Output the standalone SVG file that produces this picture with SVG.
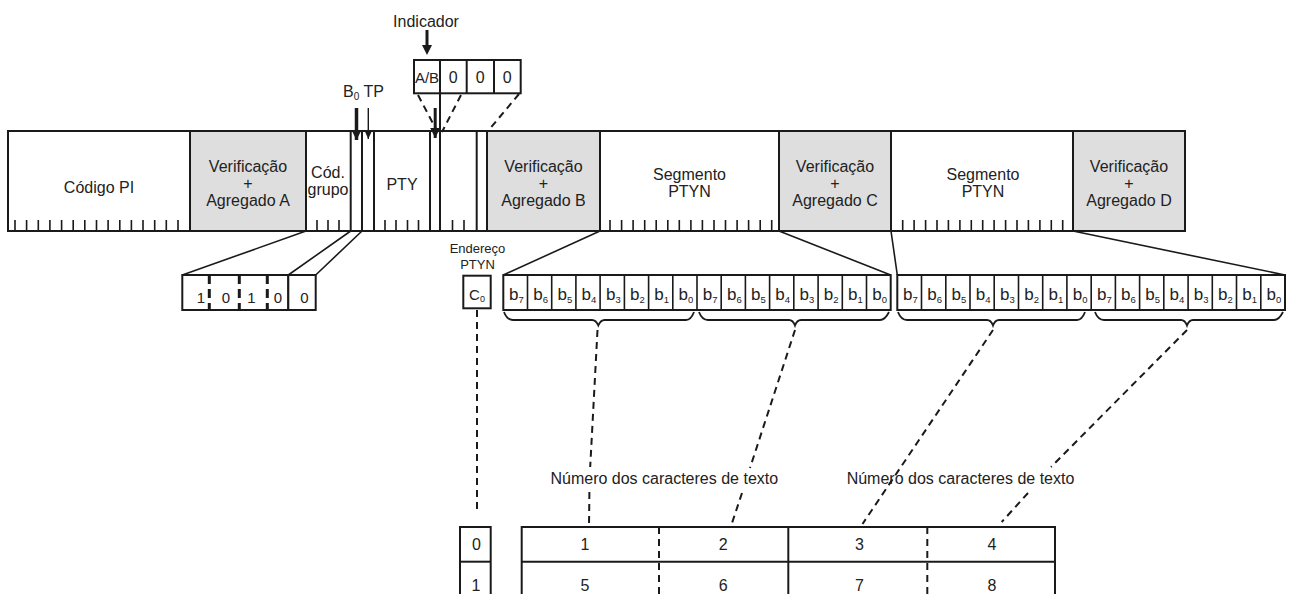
<svg xmlns="http://www.w3.org/2000/svg" width="1289" height="594" viewBox="0 0 1289 594">
<defs>
<style>
text{font-family:"Liberation Sans",Arial,sans-serif;fill:#222;text-anchor:middle}
.t{font-size:16px}
.s{font-size:13px}
.bx{fill:#fff;stroke:#1a1a1a;stroke-width:2}
.gr{fill:#dedede;stroke:#1a1a1a;stroke-width:2}
.ln{stroke:#1a1a1a;stroke-width:2;fill:none}
.tk{stroke:#1a1a1a;stroke-width:1.6}
.dl{stroke:#1a1a1a;stroke-width:2;fill:none;stroke-dasharray:7 5}
.dk{stroke:#1a1a1a;stroke-width:3;fill:none;stroke-dasharray:9 5}
.br{stroke:#1a1a1a;stroke-width:1.8;fill:none}
.bb{font-size:17px}
.sub{font-size:9.5px}
</style>
<marker id="ah" markerUnits="userSpaceOnUse" markerWidth="10" markerHeight="11" refX="5" refY="10" orient="0" viewBox="0 0 10 11">
<path d="M0,0 L10,0 L5,10 Z" fill="#1a1a1a"/>
</marker>
<marker id="ahs" markerUnits="userSpaceOnUse" markerWidth="8" markerHeight="10" refX="4" refY="9" orient="0" viewBox="0 0 8 10">
<path d="M0,0 L8,0 L4,9 Z" fill="#1a1a1a"/>
</marker>
</defs>
<rect width="1289" height="594" fill="#fff"/>

<g id="bar">
<rect class="bx" x="8" y="131" width="1177" height="100"/>
<rect class="gr" x="190" y="131" width="116" height="100"/>
<rect class="gr" x="487" y="131" width="113" height="100"/>
<rect class="gr" x="779" y="131" width="112" height="100"/>
<rect class="gr" x="1073" y="131" width="112" height="100"/>
<g class="ln">
<line x1="350.7" y1="131" x2="350.7" y2="231"/>
<line x1="362" y1="131" x2="362" y2="231"/>
<line x1="374" y1="131" x2="374" y2="231"/>
<line x1="430" y1="131" x2="430" y2="231"/>
<line x1="440" y1="93" x2="440" y2="231"/>
<line x1="476.7" y1="131" x2="476.7" y2="231"/>
</g>
<g class="tk">
<path d="M15,220V231M26.6,220V231M38.3,220V231M49.9,220V231M61.6,220V231M73.2,220V231M84.8,220V231M96.5,220V231M108.1,220V231M119.8,220V231M131.4,220V231M143,220V231M154.7,220V231M166.3,220V231M178,220V231"/>
<path d="M317,220V231M328,220V231M339,220V231"/>
<path d="M385,220V231M396,220V231M407.5,220V231M418.5,220V231"/>
<path d="M452.5,220V231M464,220V231"/>
<path d="M610,220V231M621.6,220V231M633.1,220V231M644.7,220V231M656.2,220V231M667.8,220V231M679.3,220V231M690.9,220V231M702.4,220V231M714,220V231M725.5,220V231M737.1,220V231M748.6,220V231M760.2,220V231M771.7,220V231"/>
<path d="M902.7,220V231M914.1,220V231M925.6,220V231M937,220V231M948.4,220V231M959.9,220V231M971.3,220V231M982.7,220V231M994.1,220V231M1005.6,220V231M1017,220V231M1028.4,220V231M1039.9,220V231M1051.3,220V231M1062.7,220V231"/>
</g>
</g>

<g id="codigo-pi"><text class="t" x="99" y="193">Código PI</text></g>
<g id="verif-a"><text class="t" x="248" y="172">Verificação</text><text class="t" x="248" y="189">+</text><text class="t" x="248" y="206">Agregado A</text></g>
<g id="cod-grupo"><text class="t" x="328" y="178">Cód.</text><text class="t" x="328" y="195">grupo</text></g>
<g id="pty"><text class="t" x="402" y="190">PTY</text></g>
<g id="verif-b"><text class="t" x="543.5" y="172">Verificação</text><text class="t" x="543.5" y="189">+</text><text class="t" x="543.5" y="206">Agregado B</text></g>
<g id="seg1"><text class="t" x="689.5" y="180">Segmento</text><text class="t" x="689.5" y="197">PTYN</text></g>
<g id="verif-c"><text class="t" x="835" y="172">Verificação</text><text class="t" x="835" y="189">+</text><text class="t" x="835" y="206">Agregado C</text></g>
<g id="seg2"><text class="t" x="983" y="180">Segmento</text><text class="t" x="983" y="197">PTYN</text></g>
<g id="verif-d"><text class="t" x="1129" y="172">Verificação</text><text class="t" x="1129" y="189">+</text><text class="t" x="1129" y="206">Agregado D</text></g>

<g id="indicador">
<text class="t" x="426" y="27">Indicador</text>
<rect class="bx" x="414" y="60" width="106.7" height="33.3"/>
<path class="ln" d="M440,60V93.3M466.7,60V93.3M494,60V93.3"/>
<text class="t" x="427" y="83" style="font-size:15px">A/B</text>
<text class="t" x="453.3" y="83">0</text>
<text class="t" x="480.3" y="83">0</text>
<text class="t" x="507.3" y="83">0</text>
</g>

<g id="b0tp">
<text class="t" x="343" y="97" style="text-anchor:start">B<tspan style="font-size:10px" dy="3">0</tspan><tspan dy="-3"> TP</tspan></text>
</g>

<g id="bits-grupo">
<rect class="bx" x="182.3" y="275" width="106" height="35"/>
<rect class="bx" x="288.3" y="275" width="27.4" height="35"/>
<path class="dk" d="M209.3,275V310M239.3,275V310M267.3,275V310"/>
<text class="t" x="200.8" y="303" style="font-size:15px">1</text>
<text class="t" x="225.8" y="303" style="font-size:15px">0</text>
<text class="t" x="251.5" y="303" style="font-size:15px">1</text>
<text class="t" x="277.8" y="303" style="font-size:15px">0</text>
<text class="t" x="304.5" y="303" style="font-size:15px">0</text>
</g>

<g id="endereco">
<text class="s" x="477.5" y="253">Endereço</text>
<text class="s" x="477.5" y="269">PTYN</text>
<rect class="bx" x="463.3" y="275.7" width="27.4" height="32.6"/>
<text class="t" x="477" y="300" style="font-size:15px">C<tspan style="font-size:9px" dy="2">0</tspan></text>
</g>

<g id="brow1">
<rect class="bx" x="503.3" y="275" width="387.4" height="35"/>
<path class="ln" style="stroke-width:1.6" d="M527.5,275V310M551.7,275V310M575.9,275V310M600.1,275V310M624.4,275V310M648.6,275V310M672.8,275V310M697,275V310M721.2,275V310M745.4,275V310M769.6,275V310M793.8,275V310M818.1,275V310M842.3,275V310M866.5,275V310"/>
<g class="bb">
<text x="516.4" y="300">b<tspan class="sub" dy="3">7</tspan></text>
<text x="540.6" y="300">b<tspan class="sub" dy="3">6</tspan></text>
<text x="564.8" y="300">b<tspan class="sub" dy="3">5</tspan></text>
<text x="589" y="300">b<tspan class="sub" dy="3">4</tspan></text>
<text x="613.3" y="300">b<tspan class="sub" dy="3">3</tspan></text>
<text x="637.5" y="300">b<tspan class="sub" dy="3">2</tspan></text>
<text x="661.7" y="300">b<tspan class="sub" dy="3">1</tspan></text>
<text x="685.9" y="300">b<tspan class="sub" dy="3">0</tspan></text>
<text x="710.1" y="300">b<tspan class="sub" dy="3">7</tspan></text>
<text x="734.3" y="300">b<tspan class="sub" dy="3">6</tspan></text>
<text x="758.5" y="300">b<tspan class="sub" dy="3">5</tspan></text>
<text x="782.7" y="300">b<tspan class="sub" dy="3">4</tspan></text>
<text x="807" y="300">b<tspan class="sub" dy="3">3</tspan></text>
<text x="831.2" y="300">b<tspan class="sub" dy="3">2</tspan></text>
<text x="855.4" y="300">b<tspan class="sub" dy="3">1</tspan></text>
<text x="879.6" y="300">b<tspan class="sub" dy="3">0</tspan></text>
</g>
</g>
<g id="brow2">
<rect class="bx" x="897.3" y="275" width="387.7" height="35"/>
<path class="ln" style="stroke-width:1.6" d="M921.5,275V310M945.8,275V310M970,275V310M994.2,275V310M1018.5,275V310M1042.7,275V310M1066.9,275V310M1091.2,275V310M1115.4,275V310M1139.6,275V310M1163.8,275V310M1188.1,275V310M1212.3,275V310M1236.5,275V310M1260.8,275V310"/>
<g class="bb">
<text x="910.4" y="300">b<tspan class="sub" dy="3">7</tspan></text>
<text x="934.7" y="300">b<tspan class="sub" dy="3">6</tspan></text>
<text x="958.9" y="300">b<tspan class="sub" dy="3">5</tspan></text>
<text x="983.1" y="300">b<tspan class="sub" dy="3">4</tspan></text>
<text x="1007.4" y="300">b<tspan class="sub" dy="3">3</tspan></text>
<text x="1031.6" y="300">b<tspan class="sub" dy="3">2</tspan></text>
<text x="1055.8" y="300">b<tspan class="sub" dy="3">1</tspan></text>
<text x="1080.1" y="300">b<tspan class="sub" dy="3">0</tspan></text>
<text x="1104.3" y="300">b<tspan class="sub" dy="3">7</tspan></text>
<text x="1128.5" y="300">b<tspan class="sub" dy="3">6</tspan></text>
<text x="1152.7" y="300">b<tspan class="sub" dy="3">5</tspan></text>
<text x="1177" y="300">b<tspan class="sub" dy="3">4</tspan></text>
<text x="1201.2" y="300">b<tspan class="sub" dy="3">3</tspan></text>
<text x="1225.4" y="300">b<tspan class="sub" dy="3">2</tspan></text>
<text x="1249.7" y="300">b<tspan class="sub" dy="3">1</tspan></text>
<text x="1273.9" y="300">b<tspan class="sub" dy="3">0</tspan></text>
</g>
</g>

<g id="addr-table">
<rect class="bx" x="460" y="527" width="30.7" height="72"/>
<line class="ln" x1="460" y1="561.7" x2="490.7" y2="561.7"/>
<text class="t" x="476.5" y="550">0</text>
<text class="t" x="476" y="591">1</text>
</g>
<g id="char-table">
<rect class="bx" x="521.7" y="527" width="533.3" height="72"/>
<line class="ln" x1="521.7" y1="561.7" x2="1055" y2="561.7"/>
<line class="ln" x1="788.3" y1="527" x2="788.3" y2="599"/>
<path class="dl" d="M659,527V599M927.3,527V599"/>
<text class="t" x="585" y="550">1</text>
<text class="t" x="723.3" y="550">2</text>
<text class="t" x="859.5" y="550">3</text>
<text class="t" x="992" y="550">4</text>
<text class="t" x="585" y="591">5</text>
<text class="t" x="723.3" y="591">6</text>
<text class="t" x="859.5" y="591">7</text>
<text class="t" x="992" y="591">8</text>
</g>

<g id="labels">
<text class="t" x="664.3" y="484">Número dos caracteres de texto</text>
<text class="t" x="960.5" y="484">Número dos caracteres de texto</text>
</g>

<g id="connectors">
<line class="ln" x1="427" y1="30" x2="427" y2="46" style="stroke-width:3"/>
<path d="M422,45 L432,45 L427,55 Z" fill="#1a1a1a"/>
<line class="ln" x1="356.5" y1="108" x2="356.5" y2="140" style="stroke-width:3.5" marker-end="url(#ah)"/>
<line class="ln" x1="368.3" y1="108" x2="368.3" y2="139" style="stroke-width:1.4" marker-end="url(#ahs)"/>
<line class="ln" x1="435.2" y1="108" x2="435.2" y2="138" style="stroke-width:3" marker-end="url(#ah)"/>

<path class="dl" d="M418,95L437,131M461,95L442,132M519,94L488,131"/>

<path class="ln" style="stroke-width:1.6" d="M306,231L182.3,275M350.7,231L288.3,275M362,231L315.7,275"/>
<path class="ln" style="stroke-width:1.6" d="M600,231L503.3,275M779,231L890.7,275M891,231L897.3,275M1073,231L1285,275"/>

<path class="br" d="M504,312Q507,320 513,320L592,320Q596,320 598.3,325.5Q600.6,320 604.6,320L686,320Q691,320 694,312"/>
<path class="br" d="M699,312Q702,320 708,320L789,320Q793,320 795,325.5Q797,320 801,320L880,320Q885,320 889,312"/>
<path class="br" d="M898,312Q901,320 907,320L987,320Q991,320 993,325.5Q995,320 999,320L1077,320Q1082,320 1085,312"/>
<path class="br" d="M1095,312Q1098,320 1104,320L1181,320Q1185,320 1187,325.5Q1189,320 1193,320L1274,320Q1279,320 1283,312"/>

<path class="dl" d="M597.5,330L590.2,467M589.4,492L589,527"/>
<path class="dl" d="M795,330L750,468M742,493L731.7,524"/>
<path class="dl" d="M993,330L862.5,524"/>
<path class="dl" d="M1187,330L1051,467M1028,493L1001.7,522"/>
<path class="dl" d="M477,310V510"/>
</g>
</svg>
